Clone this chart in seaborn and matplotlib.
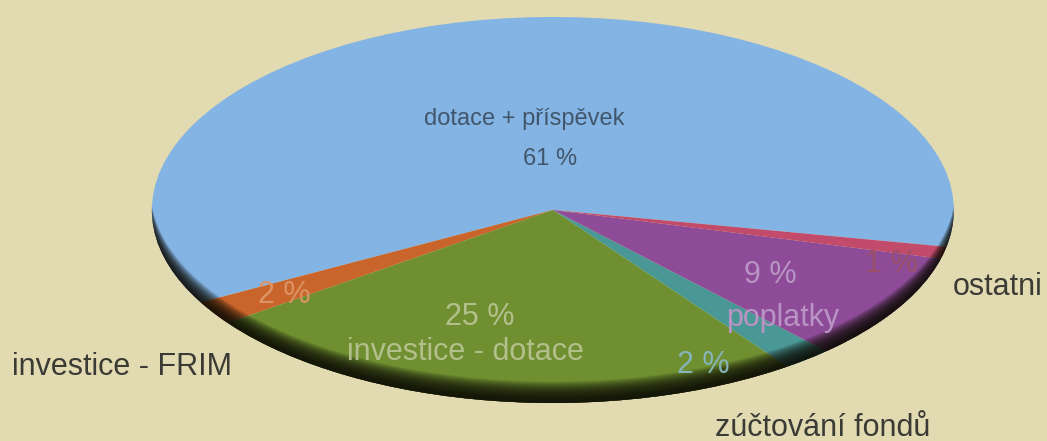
import matplotlib
matplotlib.use("Agg")
import numpy as np
import matplotlib.pyplot as plt
from matplotlib.patches import Ellipse, PathPatch
from matplotlib.path import Path
import seaborn as sns

sns.set_theme(style="white")
plt.rcParams['font.family'] = ['Liberation Sans', 'DejaVu Sans']

# data
categories = ["dotace + příspěvek", "investice - FRIM", "investice - dotace",
              "zúčtování fondů", "poplatky", "ostatni"]
shares = [61, 2, 25, 2, 9, 1]
colors = ["#84b4e4", "#c9652a", "#6f8f30", "#4a9896", "#8d4b98", "#c24a6a"]
bg = "#e2dab0"

fig = plt.figure(figsize=(10.47, 4.41), dpi=100, facecolor=bg)
ax = fig.add_axes([0, 0, 1, 1])
ax.set_facecolor(bg)

R = 0.99
wedges, _ = ax.pie(shares, colors=colors, startangle=-11, counterclock=True,
                   radius=R, center=(0, 0), wedgeprops=dict(linewidth=0))

ax.set_xlim(-1.365, 1.22)
ax.set_ylim(-1.185, 1.077)
ax.set_aspect("auto")
ax.axis("off")

# dark rim along the lower edge (3d look): pie ellipse minus raised copies
clip = Ellipse((0, 0), 2 * R, 2 * R, transform=ax.transData, fill=False, lw=0)
ax.add_patch(clip)
t = np.linspace(0, 2 * np.pi, 300)
rect = Path([(-3, -3), (-3, 3), (3, 3), (3, -3), (-3, -3)])
for s in np.linspace(0.004, 0.11, 28):
    hole = Path(np.column_stack([R * 1.004 * np.cos(t), s + R * np.sin(t)]))
    p = PathPatch(Path.make_compound_path(rect, hole), facecolor="#100f08",
                  alpha=0.085, lw=0, zorder=3)
    ax.add_patch(p)
    p.set_clip_path(clip)

fs = 22
# labels inside the wedges
ax.text(-0.071, 0.467, categories[0], ha="center", va="center", fontsize=17,
        color="#42566b", zorder=5)
ax.text(-0.007, 0.262, f"{shares[0]} %", ha="center", va="center", fontsize=17,
        color="#42566b", zorder=5)
ax.text(-0.664, -0.436, f"{shares[1]} %", ha="center", va="center", fontsize=fs,
        color="#dc9466", zorder=5)
ax.text(-0.180, -0.549, f"{shares[2]} %", ha="center", va="center", fontsize=fs,
        color="#b4c08c", zorder=5)
ax.text(-0.217, -0.728, categories[2], ha="center", va="center", fontsize=fs,
        color="#b4c08c", zorder=5)
ax.text(0.371, -0.795, f"{shares[3]} %", ha="center", va="center", fontsize=fs,
        color="#86b4b8", zorder=5)
ax.text(0.536, -0.333, f"{shares[4]} %", ha="center", va="center", fontsize=fs,
        color="#b994c4", zorder=5)
ax.text(0.568, -0.554, categories[4], ha="center", va="center", fontsize=fs,
        color="#b994c4", zorder=5)
ax.text(0.835, -0.277, f"{shares[5]} %", ha="center", va="center", fontsize=fs,
        color="#9a5068", zorder=5)

# outside labels
dark = "#3b3b36"
ax.text(-1.335, -0.805, categories[1], ha="left", va="center", fontsize=fs, color=dark)
ax.text(0.988, -0.395, categories[5], ha="left", va="center", fontsize=fs, color=dark)
ax.text(0.665, -1.118, categories[3], ha="center", va="center", fontsize=fs, color=dark)

fig.savefig("out.png", dpi=100, facecolor=bg)
